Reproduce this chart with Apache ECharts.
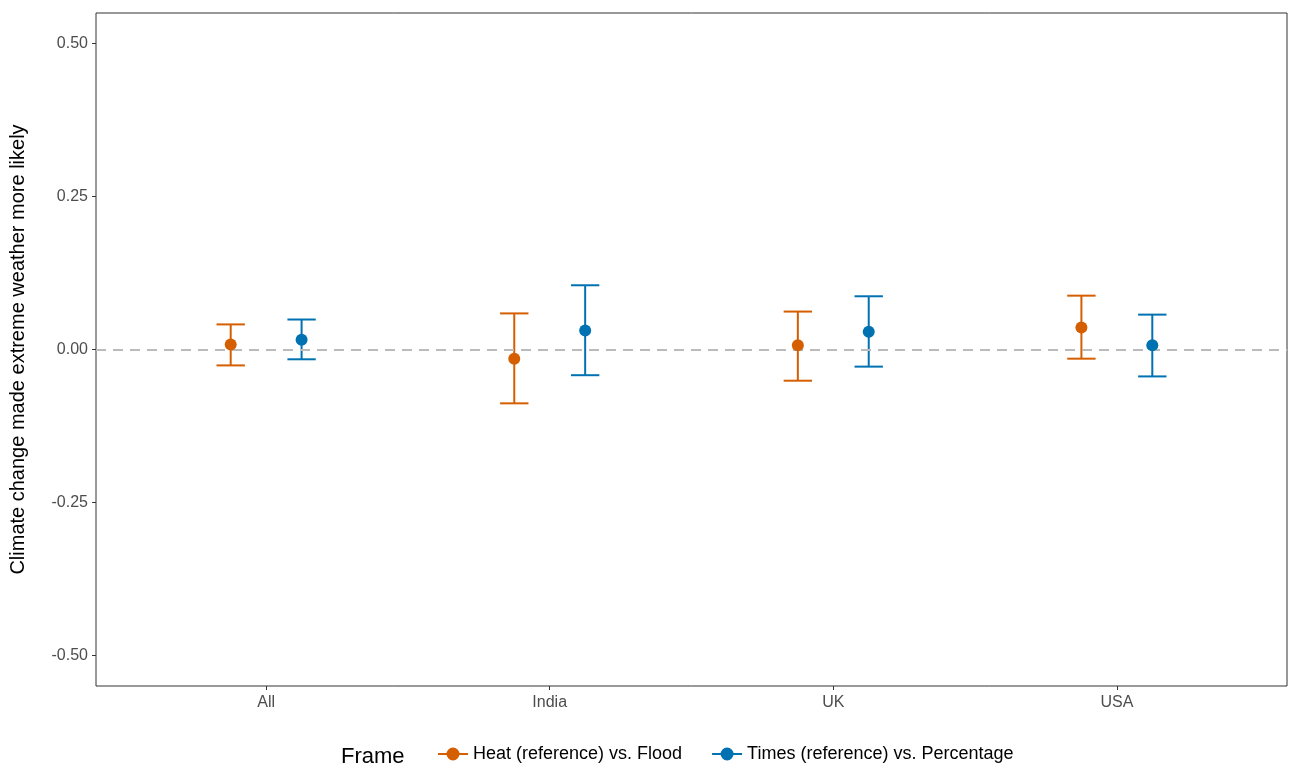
<!DOCTYPE html>
<html><head><meta charset="utf-8">
<script src="https://cdn.jsdelivr.net/npm/echarts@6/dist/echarts.min.js"></script>
<style>html,body{margin:0;padding:0;background:#fff}#c{width:1299px;height:777px}</style>
</head><body><div id="c"></div>
<script>
var countries = ['All', 'India', 'UK', 'USA'];
var heatMean = [0.008, -0.015, 0.007, 0.036];
var heatLow = [-0.026, -0.088, -0.051, -0.015];
var heatHigh = [0.041, 0.059, 0.062, 0.088];
var timesMean = [0.016, 0.031, 0.029, 0.007];
var timesLow = [-0.016, -0.042, -0.028, -0.044];
var timesHigh = [0.049, 0.105, 0.087, 0.057];
var yTicks = [-0.5, -0.25, 0, 0.25, 0.5];

var dodge = 0.125, capHalf = 0.05;
var colHeat = '#D55E00', colTimes = '#0072B2';

function pts(mean, off) {
    return mean.map(function (v, i) { return [i + 1 + off, v]; });
}
function bars(low, high, off) {
    return low.map(function (v, i) { return [i + 1 + off, v, high[i]]; });
}
function errRender(color) {
    return function (params, api) {
        var x = api.value(0);
        var lo = api.coord([x, api.value(1)]);
        var hi = api.coord([x, api.value(2)]);
        var l = api.coord([x - capHalf, 0])[0], r = api.coord([x + capHalf, 0])[0];
        var st = { stroke: color, lineWidth: 2 };
        return { type: 'group', children: [
            { type: 'line', shape: { x1: lo[0], y1: lo[1], x2: hi[0], y2: hi[1] }, style: st },
            { type: 'line', shape: { x1: l, y1: lo[1], x2: r, y2: lo[1] }, style: st },
            { type: 'line', shape: { x1: l, y1: hi[1], x2: r, y2: hi[1] }, style: st }
        ] };
    };
}
var icon = 'path://M0,9 L30,9 L30,11 L0,11 Z M15,3.5 A6.5,6.5 0 1,1 15,16.5 A6.5,6.5 0 1,1 15,3.5 Z';

var chart = echarts.init(document.getElementById('c'));
chart.setOption({
    animation: false,
    textStyle: { fontFamily: 'Arial, Liberation Sans, sans-serif' },
    grid: { left: 96, right: 12, top: 13, bottom: 91, show: true, borderColor: '#333', borderWidth: 1 },
    xAxis: {
        type: 'value', min: 0.4, max: 4.6,
        splitLine: { show: false },
        axisLine: { show: false, onZero: false },
        axisTick: { show: true, customValues: [1, 2, 3, 4], length: 4, lineStyle: { color: '#333' } },
        axisLabel: { customValues: [1, 2, 3, 4], color: '#4d4d4d', fontSize: 16, margin: 9,
            formatter: function (v) { return countries[Math.round(v) - 1]; } }
    },
    yAxis: {
        type: 'value', min: -0.55, max: 0.55,
        name: 'Climate change made extreme weather more likely',
        nameLocation: 'middle', nameGap: 68,
        nameTextStyle: { fontSize: 20, color: '#000' },
        splitLine: { show: false },
        axisLine: { show: false, onZero: false },
        axisTick: { show: true, customValues: yTicks, length: 4, lineStyle: { color: '#333' } },
        axisLabel: { customValues: yTicks, color: '#4d4d4d', fontSize: 16, margin: 8,
            formatter: function (v) { return v.toFixed(2); } }
    },
    legend: {
        bottom: 9, left: 433, itemWidth: 30, itemHeight: 14, itemGap: 30,
        textStyle: { fontSize: 18, color: '#000' },
        data: [{ name: 'Heat (reference) vs. Flood', icon: icon },
               { name: 'Times (reference) vs. Percentage', icon: icon }]
    },
    graphic: [{ type: 'text', left: 341, bottom: 9, style: { text: 'Frame', fontSize: 22, fill: '#000' } }],
    series: [
        { type: 'custom', name: 'Heat (reference) vs. Flood', data: bars(heatLow, heatHigh, -dodge),
          renderItem: errRender(colHeat), itemStyle: { color: colHeat },
          markLine: { silent: true, symbol: 'none', label: { show: false },
            lineStyle: { color: '#bbbbbb', type: [10, 7], width: 2 }, data: [{ yAxis: 0 }] } },
        { type: 'custom', name: 'Times (reference) vs. Percentage', data: bars(timesLow, timesHigh, dodge),
          renderItem: errRender(colTimes), itemStyle: { color: colTimes } },
        { type: 'scatter', name: 'Heat (reference) vs. Flood', data: pts(heatMean, -dodge),
          symbolSize: 12, itemStyle: { color: colHeat, opacity: 1 }, z: 5 },
        { type: 'scatter', name: 'Times (reference) vs. Percentage', data: pts(timesMean, dodge),
          symbolSize: 12, itemStyle: { color: colTimes, opacity: 1 }, z: 5 }
    ]
});
</script></body></html>
